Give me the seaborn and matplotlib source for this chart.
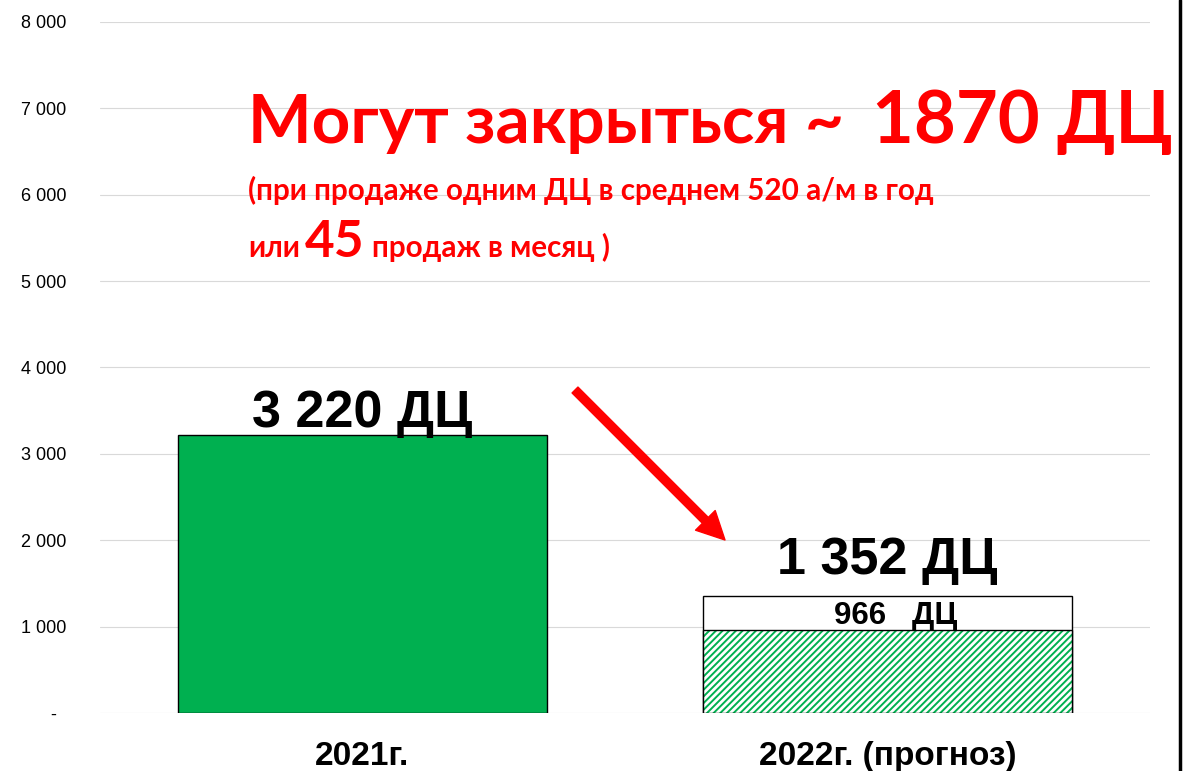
import matplotlib
matplotlib.use('agg')
import matplotlib.pyplot as plt
from matplotlib.lines import Line2D
import seaborn as sns

# data
categories = ['2021г.', '2022г. (прогноз)']
dealers_total = [3220, 1352]
dealers_confirmed = [None, 966]
yticks = [0, 1000, 2000, 3000, 4000, 5000, 6000, 7000, 8000]
ytick_labels = ['-  ', '1 000', '2 000', '3 000', '4 000', '5 000', '6 000', '7 000', '8 000']

title_main = 'Могут закрыться ~'
title_num = '1870 ДЦ'
note_line1 = '(при продаже одним ДЦ в среднем 520 а/м в год'
note_pre, note_num, note_post = 'или', '45', 'продаж в месяц )'

GREEN = '#00B050'
RED = '#FF0000'

sns.set_style('white')
plt.rcParams['font.family'] = ['Liberation Sans', 'DejaVu Sans']
plt.rcParams['hatch.linewidth'] = 1.4
plt.rcParams['text.color'] = 'black'
plt.rcParams['xtick.color'] = 'black'
plt.rcParams['ytick.color'] = 'black'
plt.rcParams['xtick.labelcolor'] = 'black'
plt.rcParams['ytick.labelcolor'] = 'black'

fig = plt.figure(figsize=(11.83, 7.71), dpi=100)
ax = fig.add_axes([100 / 1183, 58 / 771, 1050 / 1183, 691 / 771])

bw = 0.703
sns.barplot(x=categories, y=dealers_total, hue=categories, palette=[GREEN, 'white'],
            saturation=1, edgecolor='black', linewidth=1.0, width=bw, legend=False,
            ax=ax, zorder=2)

# hatched part of forecast bar
for i, v in enumerate(dealers_confirmed):
    if v is None:
        continue
    ax.bar(i, v, width=bw, color='white', hatch='/////', edgecolor=GREEN, linewidth=0, zorder=3)
    ax.bar(i, v, width=bw, fill=False, edgecolor='black', linewidth=1.0, zorder=4)
    ax.annotate(f'{v}   ДЦ', (i, v), xytext=(6, 4), textcoords='offset points',
                ha='center', va='baseline', fontsize=22.5, fontweight='bold', color='black')

# totals above bars
offsets = [6, 16]
for i, v in enumerate(dealers_total):
    lab = f'{v:,}'.replace(',', ' ') + ' ДЦ'
    ax.annotate(lab, (i, v), xytext=(0, offsets[i]), textcoords='offset points',
                ha='center', va='baseline', fontsize=37.5, fontweight='bold', color='black')

ax.set_ylim(0, 8000)
ax.set_xlim(-0.5, 1.5)
ax.set_yticks(yticks)
ax.set_yticklabels(ytick_labels)
ax.yaxis.grid(True, color='#d9d9d9', linewidth=0.8, zorder=0)
ax.set_axisbelow(True)
for s in ax.spines.values():
    s.set_visible(False)
ax.tick_params(axis='y', length=0, pad=24, labelsize=13, labelcolor='black')
ax.tick_params(axis='x', length=0, pad=20, labelsize=24, labelcolor='black')
for t in ax.get_xticklabels():
    t.set_fontweight('bold')
ax.set_xlabel('')
ax.set_ylabel('')

# red headline
tf = ['Lato', 'DejaVu Sans']
fig.text(248 / 1183, 1 - 143 / 771, title_main, ha='left', va='baseline', color=RED,
         fontsize=48.5, fontweight='bold', family=tf)
fig.text(872 / 1183, 1 - 143 / 771, title_num, ha='left', va='baseline', color=RED,
         fontsize=52, fontweight='bold', family=tf)
fig.text(248 / 1183, 1 - 200 / 771, note_line1, ha='left', va='baseline', color=RED,
         fontsize=21.3, fontweight='bold', family=tf)
fig.text(248 / 1183, 1 - 257 / 771, note_pre, ha='left', va='baseline', color=RED,
         fontsize=21.3, fontweight='bold', family=tf)
fig.text(305 / 1183, 1 - 257 / 771, note_num, ha='left', va='baseline', color=RED,
         fontsize=37, fontweight='bold', family=tf)
fig.text(372 / 1183, 1 - 257 / 771, note_post, ha='left', va='baseline', color=RED,
         fontsize=21.3, fontweight='bold', family=tf)

# arrow
ax.annotate('', xy=(725 / 1183, 1 - 540 / 771), xytext=(575 / 1183, 1 - 390 / 771),
            xycoords='figure fraction', textcoords='figure fraction',
            arrowprops=dict(arrowstyle='simple,head_length=1.0,head_width=1.0,tail_width=0.3',
                            color=RED, mutation_scale=20, shrinkA=0, shrinkB=0))

# slide border on right
fig.add_artist(Line2D([1180 / 1183, 1180 / 1183], [0, 1], color='black', linewidth=2.5))

plt.savefig('out.png', dpi=100)
